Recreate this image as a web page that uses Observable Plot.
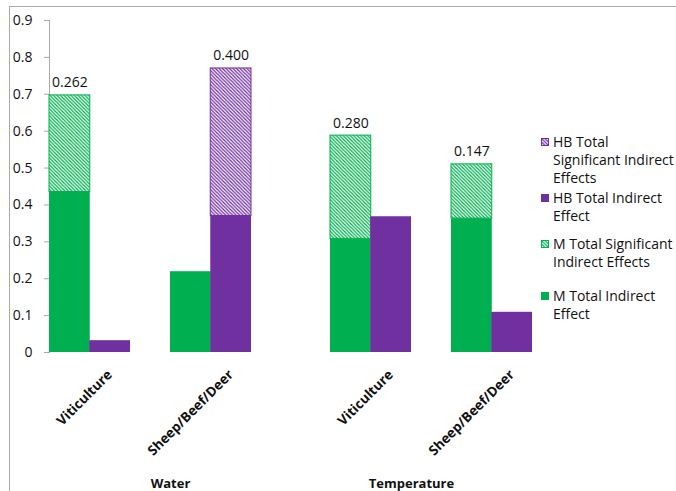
<!DOCTYPE html>
<html>
<head>
<meta charset="utf-8">
<script src="https://cdn.jsdelivr.net/npm/d3@7"></script>
<script src="https://cdn.jsdelivr.net/npm/@observablehq/plot@0.6"></script>
<style>
  body { margin: 0; background: #fff; font-family: "Open Sans", sans-serif; }
  #wrap { position: relative; width: 676px; height: 491px; overflow: hidden; background: #fff; }
  #border { position: absolute; left: 9px; top: 6px; right: -10px; bottom: -10px;
            border-top: 1.5px solid #a9a9a9; border-left: 1.5px solid #a9a9a9; }
  #chart { position: absolute; left: 0; top: 0; }
  #legend { position: absolute; left: 540px; top: 0; font-size: 14px; line-height: 18px; color: #111; }
  .item { position: absolute; left: 0; width: 136px; display: flex; white-space: nowrap; }
  .sw { flex: none; width: 8px; height: 8px; margin: 5px 4px 0 1px; }
</style>
</head>
<body>
<svg width="0" height="0" style="position:absolute">
  <defs>
    <pattern id="hatchGreen" patternUnits="userSpaceOnUse" width="3.5" height="3.5">
      <rect width="3.5" height="3.5" fill="#ffffff"></rect>
      <path d="M0,0L3.5,3.5M-1,2.5L1,4.5M2.5,-1L4.5,1" stroke="#00b050" stroke-width="1.3"></path>
    </pattern>
    <pattern id="hatchPurple" patternUnits="userSpaceOnUse" width="3.5" height="3.5">
      <rect width="3.5" height="3.5" fill="#ffffff"></rect>
      <path d="M0,0L3.5,3.5M-1,2.5L1,4.5M2.5,-1L4.5,1" stroke="#7030a0" stroke-width="1.3"></path>
    </pattern>
  </defs>
</svg>
<div id="wrap">
  <div id="border"></div>
  <div id="chart"></div>
  <div id="legend"></div>
</div>
<script>
// ---- data ----
const groups = ["Water", "Temperature"];
const crops = ["Viticulture", "Sheep/Beef/Deer"];
const rowGroup = ["Water", "Water", "Temperature", "Temperature"];
const rowCrop = ["Viticulture", "Sheep/Beef/Deer", "Viticulture", "Sheep/Beef/Deer"];
const mTotal = [0.435, 0.219, 0.308, 0.363];
const mSignificant = [0.262, null, 0.280, 0.147];
const hbTotal = [0.032, 0.370, 0.368, 0.109];
const hbSignificant = [null, 0.400, null, null];
const yTicks = [0, 0.1, 0.2, 0.3, 0.4, 0.5, 0.6, 0.7, 0.8, 0.9];
const legendLabels = [
  "HB Total<br>Significant Indirect<br>Effects",
  "HB Total Indirect<br>Effect",
  "M Total Significant<br>Indirect Effects",
  "M Total Indirect<br>Effect"
];

// ---- styles ----
const green = "#00b050";
const purple = "#7030a0";
const half = 40.25;

const rows = rowGroup.map((g, i) => ({
  group: g, crop: rowCrop[i],
  mTotal: mTotal[i], mSig: mSignificant[i],
  hbTotal: hbTotal[i], hbSig: hbSignificant[i]
}));
const mSigRows = rows.filter(d => d.mSig != null);
const hbSigRows = rows.filter(d => d.hbSig != null);

const chart = Plot.plot({
  width: 540,
  height: 491,
  marginLeft: 49,
  marginRight: 8,
  marginTop: 20,
  marginBottom: 139,
  style: { fontFamily: "Open Sans, sans-serif", fontSize: "14px", color: "#111", background: "transparent" },
  fx: { domain: groups, paddingInner: 0.282, paddingOuter: 0, axis: null, label: null },
  x: { domain: crops, paddingInner: 1 / 3, paddingOuter: 0, axis: null, label: null },
  y: { domain: [0, 0.9], axis: null },
  marks: [
    Plot.frame({ anchor: "left", facetAnchor: "left", stroke: "#a9a9a9" }),
    Plot.axisY({
      ticks: yTicks, tickSize: 5, tickPadding: 12, stroke: "#a9a9a9", fill: "#111",
      tickFormat: d => d === 0 ? "0" : d.toFixed(1), label: null, fontSize: 14
    }),
    Plot.barY(rows, { fx: "group", x: "crop", y: "mTotal", fill: green, insetRight: half }),
    Plot.barY(mSigRows, {
      fx: "group", x: "crop", y1: "mTotal", y2: d => d.mTotal + d.mSig,
      fill: "url(#hatchGreen)", stroke: green, strokeWidth: 1, insetRight: half
    }),
    Plot.barY(rows, { fx: "group", x: "crop", y: "hbTotal", fill: purple, insetLeft: half }),
    Plot.barY(hbSigRows, {
      fx: "group", x: "crop", y1: "hbTotal", y2: d => d.hbTotal + d.hbSig,
      fill: "url(#hatchPurple)", stroke: purple, strokeWidth: 1, insetLeft: half
    }),
    Plot.text(mSigRows, {
      fx: "group", x: "crop", y: d => d.mTotal + d.mSig, text: d => d.mSig.toFixed(3),
      dx: -half / 2, dy: -8, lineAnchor: "bottom", fill: "#111", fontSize: 14
    }),
    Plot.text(hbSigRows, {
      fx: "group", x: "crop", y: d => d.hbTotal + d.hbSig, text: d => d.hbSig.toFixed(3),
      dx: half / 2, dy: -8, lineAnchor: "bottom", fill: "#111", fontSize: 14
    }),
    Plot.axisX({
      tickRotate: -45, textAnchor: "end", lineAnchor: "bottom", tickSize: 0, tickPadding: 23,
      dx: 23, fontWeight: "bold", fontSize: 13.5, fill: "#111", label: null
    }),
    Plot.text(["Water"], {
      fx: d => d, text: d => d, frameAnchor: "bottom", lineAnchor: "bottom",
      dy: 135, dx: 20, fontWeight: "bold", fontSize: 13, fill: "#111"
    }),
    Plot.text(["Temperature"], {
      fx: d => d, text: d => d, frameAnchor: "bottom", lineAnchor: "bottom",
      dy: 135, dx: -20, fontWeight: "bold", fontSize: 13, fill: "#111"
    })
  ]
});
document.getElementById("chart").appendChild(chart);

// ---- legend ----
const legendFills = ["url(#hatchPurple)", purple, "url(#hatchGreen)", green];
const legendStrokes = [purple, purple, green, green];
const legendTops = [133, 189, 235, 287];
const legend = document.getElementById("legend");
legendLabels.forEach((lab, i) => {
  const item = document.createElement("div");
  item.className = "item";
  item.style.top = legendTops[i] + "px";
  item.innerHTML = `<svg class="sw" viewBox="0 0 8 8"><rect x="0.5" y="0.5" width="7" height="7" fill="${legendFills[i]}" stroke="${legendStrokes[i]}" stroke-width="1"></rect></svg><span>${lab}</span>`;
  legend.appendChild(item);
});
</script>
</body>
</html>
